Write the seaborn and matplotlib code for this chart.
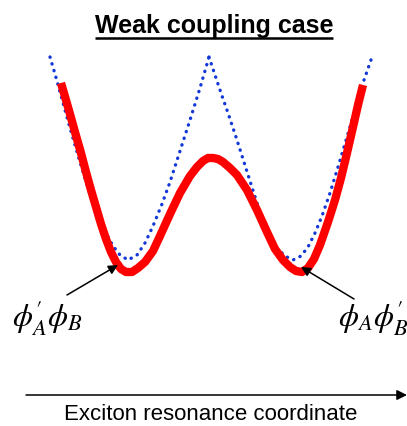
import matplotlib
matplotlib.use("Agg")
import matplotlib.pyplot as plt
import seaborn as sns

sns.set_theme(style="white")
plt.rcParams['font.family'] = ['Liberation Sans', 'DejaVu Sans']
plt.rcParams['mathtext.fontset'] = 'stix'
plt.rcParams['text.color'] = 'black'

# Diabatic (uncoupled) curves, blue dotted: coordinate vs energy (arbitrary units)
blue_left_x = [-160, -155, -150, -145, -140, -135, -130, -123, -117, -110, -103, -97, -90,
               -82, -73, -65, -57, -48, -40, -30, -20, -10, -1]
blue_left_e = [203, 186, 168, 150, 132, 115, 98, 75, 57, 40, 25, 14, 5,
               0, 5, 17, 34, 56, 78, 109, 140, 172, 203]
blue_right_x = [-1, 5, 11, 18, 26, 33, 40, 47, 53, 60, 67, 75, 83,
                91, 98, 105, 112, 120, 128, 137, 145, 153, 162]
blue_right_e = [203, 185, 167, 147, 123, 101, 79, 57, 40, 24, 12, 4, 0,
                4, 13, 27, 44, 67, 93, 123, 150, 177, 203]

# Adiabatic (weakly coupled) lower surface, red solid
red_x = [-149, -142, -135, -129, -124, -119, -114, -109, -104, -99, -94, -89, -84, -78, -72,
         -65, -57, -50, -40, -30, -20, -13, -7, -2, 3, 8, 13, 20, 27, 37, 47, 57, 65, 73, 80, 86,
         92, 98, 104, 110, 118, 125, 131, 137, 143, 148, 153]
red_e = [177, 153, 128, 107, 88, 70, 53, 36, 21, 8, -2, -9, -12, -12, -8,
         -2, 9, 24, 46, 67, 84, 93, 99, 102, 102, 101, 98, 92, 85, 70, 50, 28, 11, 0, -7, -11,
         -12, -8, 1, 15, 38, 60, 82, 107, 133, 155, 175]

title = "Weak coupling case"
xlabel = "Exciton resonance coordinate"
label_left = r"$\phi^{\prime}_{A}\phi_{B}$"
label_right = r"$\phi_{A}\phi^{\prime}_{B}$"

fig = plt.figure(figsize=(4.07, 4.26), dpi=100)
ax = fig.add_axes([0, 0, 1, 1])
ax.set_xlim(-210, 197)
ax.set_ylim(-166, 260)
ax.axis("off")

dot_style = dict(color="#1438d8", linewidth=2.4, linestyle=(0, (0.1, 2.0)),
                 dash_capstyle="round")
sns.lineplot(x=blue_left_x, y=blue_left_e, sort=False, estimator=None, ax=ax, **dot_style)
sns.lineplot(x=blue_right_x, y=blue_right_e, sort=False, estimator=None, ax=ax, **dot_style)
sns.lineplot(x=red_x, y=red_e, sort=False, estimator=None, ax=ax,
             color="#ff0000", linewidth=6.0, solid_capstyle="butt", solid_joinstyle="round")

# Title with underline
t = ax.text(4, 227, title, ha="center", va="baseline", fontsize=18, fontweight="bold",
            family=["Liberation Sans"])
fig.canvas.draw()
bb = t.get_window_extent(renderer=fig.canvas.get_renderer())
inv = ax.transData.inverted()
(x0, _), (x1, _) = inv.transform([(bb.x0, 0), (bb.x1, 0)])
ax.plot([x0, x1], [222, 222], color="black", linewidth=1.8, solid_capstyle="butt")

# State labels with arrows
ax.annotate("", xy=(-92, -5), xytext=(-143, -35),
            arrowprops=dict(arrowstyle="-|>", color="black", lw=1.1, mutation_scale=14,
                            shrinkA=0, shrinkB=0))
ax.annotate("", xy=(91, -7), xytext=(144, -39),
            arrowprops=dict(arrowstyle="-|>", color="black", lw=1.1, mutation_scale=14,
                            shrinkA=0, shrinkB=0))
ax.text(-198, -67, label_left, ha="left", va="baseline", fontsize=23)
ax.text(198, -67, label_right, ha="right", va="baseline", fontsize=23)

# Coordinate axis arrow
ax.annotate("", xy=(197, -135), xytext=(-184, -135),
            arrowprops=dict(arrowstyle="-|>", color="black", lw=1.1, mutation_scale=15,
                            shrinkA=0, shrinkB=0))
ax.text(1, -160, xlabel, ha="center", va="baseline", fontsize=16)

fig.savefig("out.png", dpi=100)
